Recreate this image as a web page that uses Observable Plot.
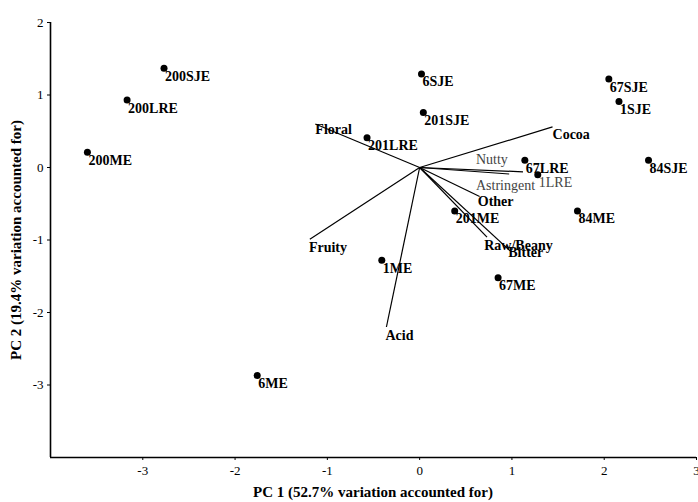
<!DOCTYPE html>
<html><head><meta charset="utf-8">
<script src="https://cdn.jsdelivr.net/npm/d3@7"></script>
<script src="https://cdn.jsdelivr.net/npm/@observablehq/plot@0.6"></script>
<style>
html,body{margin:0;padding:0;background:#fff;}
svg{font-family:"Liberation Serif","Times New Roman",serif;}
</style></head>
<body><div id="chart"></div>
<script>
// Sample scores
const samples = ["200SJE","200LRE","200ME","6SJE","201SJE","201LRE","67SJE","1SJE","67LRE","1LRE","84SJE","84ME","201ME","67ME","1ME","6ME"];
const pc1 = [-2.77,-3.17,-3.60,0.02,0.04,-0.57,2.05,2.16,1.14,1.28,2.48,1.71,0.38,0.85,-0.41,-1.76];
const pc2 = [1.37,0.93,0.21,1.29,0.76,0.41,1.22,0.91,0.10,-0.10,0.10,-0.60,-0.60,-1.52,-1.28,-2.87];
const sampleGray = [false,false,false,false,false,false,false,false,false,true,false,false,false,false,false,false];

// Attribute loadings (vector ends)
const attributes = ["Floral","Cocoa","Nutty","Astringent","Other","Raw/Beany","Bitter","Fruity","Acid"];
const load1 = [-1.13,1.44,1.12,0.97,0.65,0.73,0.98,-1.19,-0.36];
const load2 = [0.60,0.56,-0.06,-0.09,-0.40,-0.96,-1.15,-0.99,-2.20];
// label anchor points for the attributes
const lab1 = [-1.13,1.44,0.61,0.61,0.63,0.70,0.96,-1.20,-0.37];
const lab2 = [0.52,0.45,0.11,-0.25,-0.47,-1.07,-1.17,-1.11,-2.32];
const labGray = [false,false,true,true,false,false,false,false,false];

const xTicks = [-3,-2,-1,0,1,2,3];
const yTicks = [-3,-2,-1,0,1,2];

const pts = samples.map((s,i)=>({name:s,x:pc1[i],y:pc2[i],g:sampleGray[i]}));
const vecs = attributes.map((a,i)=>({name:a,x:load1[i],y:load2[i],lx:lab1[i],ly:lab2[i],g:labGray[i]}));
const blackP = pts.filter(d=>!d.g), grayP = pts.filter(d=>d.g);
const blackV = vecs.filter(d=>!d.g), grayV = vecs.filter(d=>d.g);

const chart = Plot.plot({
  width:698, height:502,
  marginLeft:50, marginRight:2, marginTop:22, marginBottom:45,
  style:{fontFamily:"Liberation Serif, Times New Roman, serif", background:"#fff"},
  x:{domain:[-4,3], axis:null},
  y:{domain:[-4,2], axis:null},
  marks:[
    Plot.axisX({ticks:xTicks, tickSize:3, tickPadding:5, fontSize:13, label:null, tickFormat:d=>String(d)}),
    Plot.axisY({ticks:yTicks, tickSize:3, tickPadding:4, fontSize:13, label:null, tickFormat:d=>String(d)}),
    Plot.ruleX([-4],{stroke:"#000",strokeWidth:1.6}),
    Plot.ruleY([-4],{stroke:"#000",strokeWidth:1.6}),
    Plot.link(vecs,{x1:0,y1:0,x2:"x",y2:"y",stroke:"#000",strokeWidth:1.2}),
    Plot.text(blackV,{x:"lx",y:"ly",text:"name",fill:"#000",fontWeight:"bold",textAnchor:"start",fontSize:14}),
    Plot.text(grayV,{x:"lx",y:"ly",text:"name",fill:"#444",textAnchor:"start",fontSize:14}),
    Plot.dot(pts,{x:"x",y:"y",r:3.5,fill:"#000",stroke:null}),
    Plot.text(blackP,{x:"x",y:"y",text:"name",fill:"#000",fontWeight:"bold",textAnchor:"start",dx:1,dy:8,fontSize:14}),
    Plot.text(grayP,{x:"x",y:"y",text:"name",fill:"#444",textAnchor:"start",dx:1,dy:8,fontSize:14})
  ]
});
const svg = d3.select(chart);
svg.append("text")
  .attr("x", (50+696)/2).attr("y", 497)
  .attr("text-anchor","middle")
  .attr("font-size",15).attr("font-weight","bold")
  .text("PC 1 (52.7% variation accounted for)");
svg.append("text")
  .attr("transform","translate(21,240) rotate(-90)")
  .attr("text-anchor","middle")
  .attr("font-size",15).attr("font-weight","bold")
  .text("PC 2 (19.4% variation accounted for)");
document.getElementById("chart").appendChild(chart);
</script></body></html>
